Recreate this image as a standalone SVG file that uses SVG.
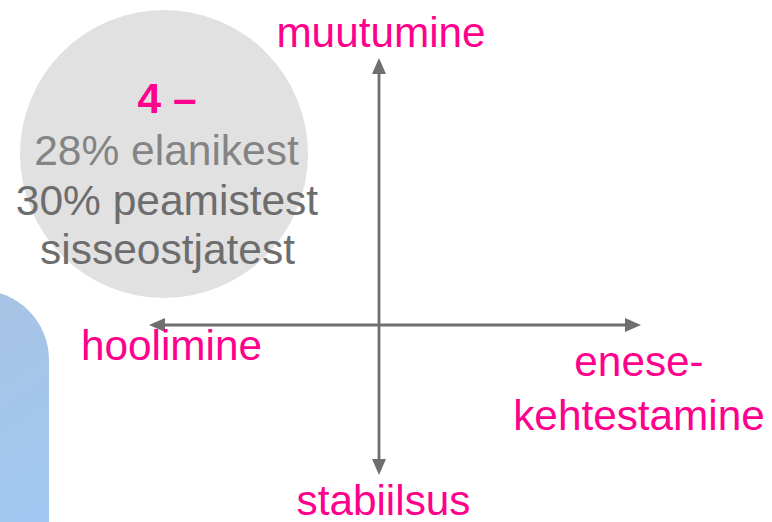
<svg xmlns="http://www.w3.org/2000/svg" width="772" height="522" viewBox="0 0 772 522">
<style>
.lbl{font-family:"Liberation Sans",Arial,sans-serif;font-size:42.3px;fill:#ff008c}
.gry{font-family:"Liberation Sans",Arial,sans-serif;font-size:42.5px;text-anchor:middle}
.ax{stroke:#6f6f6f;stroke-width:2.8;fill:none}
</style>
<defs>
<linearGradient id="bg" x1="0" y1="0" x2="0.3" y2="1">
<stop offset="0" stop-color="#aac1df"/>
<stop offset="1" stop-color="#a0c9f4"/>
</linearGradient>
<marker id="ah" markerUnits="userSpaceOnUse" markerWidth="16" markerHeight="14" refX="0" refY="7" orient="auto-start-reverse" viewBox="0 0 16 14">
<path d="M0,0 L16,7 L0,14 z" fill="#6f6f6f"/>
</marker>
</defs>
<g id="blue-panel">
<rect x="-100" y="290" width="149" height="320" rx="70" ry="70" fill="url(#bg)"/>
</g>
<g id="segment-4">
<circle cx="164" cy="154" r="144" fill="#e1e1e1"/>
<text x="167" y="113" class="gry" style="font-weight:bold;fill:#ff008c">4 –</text>
<text x="166.5" y="165" class="gry" fill="#848484">28% elanikest</text>
<text x="167" y="215" class="gry" fill="#6d6d6d">30% peamistest</text>
<text x="167.5" y="264" class="gry" fill="#6d6d6d">sisseostjatest</text>
</g>
<g id="connectors">
<line class="ax" x1="165" y1="325" x2="625" y2="325" marker-start="url(#ah)" marker-end="url(#ah)"/>
<line class="ax" x1="379" y1="74" x2="379" y2="459" marker-start="url(#ah)" marker-end="url(#ah)"/>
</g>
<g id="label-muutumine"><text class="lbl" x="381" y="47" text-anchor="middle">muutumine</text></g>
<g id="label-hoolimine"><text class="lbl" x="81" y="360">hoolimine</text></g>
<g id="label-enesekehtestamine">
<text class="lbl" x="639" y="376" text-anchor="middle">enese-</text>
<text class="lbl" x="639" y="430" text-anchor="middle">kehtestamine</text>
</g>
<g id="label-stabiilsus"><text class="lbl" x="383.5" y="515" text-anchor="middle">stabiilsus</text></g>
</svg>
